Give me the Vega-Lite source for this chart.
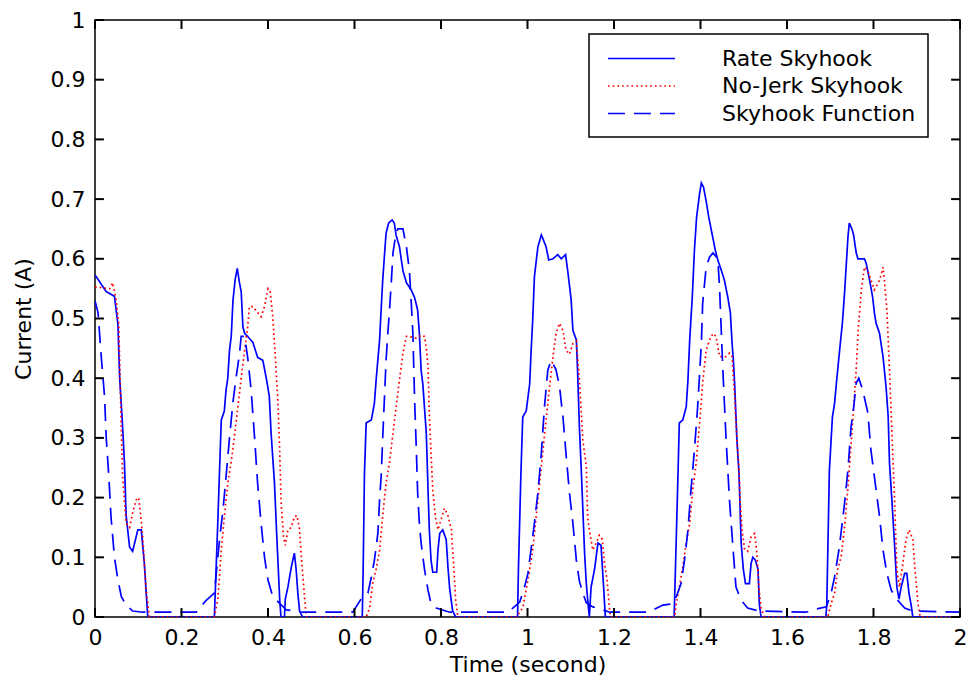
{
  "$schema": "https://vega.github.io/schema/vega-lite/v6.json",
  "width": 865,
  "height": 597,
  "autosize": {"type": "none"},
  "padding": {"left": 95, "top": 20, "right": 9, "bottom": 67},
  "background": "white",
  "datasets": {
    "xticks": [{"tk":0},{"tk":0.2},{"tk":0.4},{"tk":0.6},{"tk":0.8},{"tk":1},{"tk":1.2},{"tk":1.4},{"tk":1.6},{"tk":1.8},{"tk":2}],
    "yticks": [{"tk":0},{"tk":0.1},{"tk":0.2},{"tk":0.3},{"tk":0.4},{"tk":0.5},{"tk":0.6},{"tk":0.7},{"tk":0.8},{"tk":0.9},{"tk":1}],
    "rate": [
      {"t":0,"v":0.573},{"t":0.026,"v":0.545},{"t":0.045,"v":0.537},{"t":0.053,"v":0.49},{"t":0.057,"v":0.40},{"t":0.063,"v":0.33},{"t":0.068,"v":0.26},{"t":0.072,"v":0.17},{"t":0.080,"v":0.117},{"t":0.087,"v":0.11},{"t":0.099,"v":0.146},{"t":0.107,"v":0.146},{"t":0.114,"v":0.09},{"t":0.118,"v":0.045},{"t":0.122,"v":0},
      {"t":0.276,"v":0},{"t":0.280,"v":0.08},{"t":0.284,"v":0.16},{"t":0.288,"v":0.246},{"t":0.292,"v":0.33},{"t":0.299,"v":0.345},{"t":0.303,"v":0.38},{"t":0.307,"v":0.40},{"t":0.311,"v":0.447},{"t":0.315,"v":0.47},{"t":0.319,"v":0.53},{"t":0.324,"v":0.565},{"t":0.329,"v":0.584},{"t":0.334,"v":0.56},{"t":0.338,"v":0.545},{"t":0.342,"v":0.486},{"t":0.346,"v":0.475},{"t":0.353,"v":0.47},{"t":0.365,"v":0.46},{"t":0.376,"v":0.435},{"t":0.388,"v":0.43},{"t":0.396,"v":0.40},{"t":0.403,"v":0.37},{"t":0.407,"v":0.31},{"t":0.415,"v":0.224},{"t":0.420,"v":0.14},{"t":0.427,"v":0.03},{"t":0.430,"v":0},{"t":0.438,"v":0},{"t":0.440,"v":0.03},{"t":0.446,"v":0.05},{"t":0.454,"v":0.084},{"t":0.461,"v":0.107},{"t":0.465,"v":0.08},{"t":0.469,"v":0.04},{"t":0.473,"v":0.01},{"t":0.480,"v":0},
      {"t":0.618,"v":0},{"t":0.620,"v":0.079},{"t":0.623,"v":0.24},{"t":0.627,"v":0.325},{"t":0.639,"v":0.33},{"t":0.646,"v":0.358},{"t":0.650,"v":0.397},{"t":0.658,"v":0.464},{"t":0.662,"v":0.52},{"t":0.665,"v":0.561},{"t":0.669,"v":0.603},{"t":0.673,"v":0.643},{"t":0.679,"v":0.66},{"t":0.687,"v":0.665},{"t":0.692,"v":0.66},{"t":0.696,"v":0.64},{"t":0.704,"v":0.62},{"t":0.708,"v":0.60},{"t":0.712,"v":0.58},{"t":0.720,"v":0.56},{"t":0.731,"v":0.548},{"t":0.739,"v":0.535},{"t":0.746,"v":0.514},{"t":0.750,"v":0.475},{"t":0.754,"v":0.414},{"t":0.758,"v":0.39},{"t":0.766,"v":0.308},{"t":0.770,"v":0.213},{"t":0.773,"v":0.146},{"t":0.777,"v":0.095},{"t":0.781,"v":0.075},{"t":0.790,"v":0.075},{"t":0.793,"v":0.112},{"t":0.797,"v":0.14},{"t":0.804,"v":0.146},{"t":0.812,"v":0.13},{"t":0.816,"v":0.084},{"t":0.820,"v":0.048},{"t":0.827,"v":0.01},{"t":0.834,"v":0},
      {"t":0.977,"v":0},{"t":0.979,"v":0.079},{"t":0.985,"v":0.246},{"t":0.989,"v":0.335},{"t":0.997,"v":0.345},{"t":1.005,"v":0.39},{"t":1.008,"v":0.44},{"t":1.012,"v":0.497},{"t":1.016,"v":0.57},{"t":1.024,"v":0.62},{"t":1.032,"v":0.64},{"t":1.035,"v":0.635},{"t":1.043,"v":0.62},{"t":1.049,"v":0.598},{"t":1.059,"v":0.60},{"t":1.070,"v":0.607},{"t":1.078,"v":0.60},{"t":1.088,"v":0.607},{"t":1.093,"v":0.58},{"t":1.101,"v":0.531},{"t":1.105,"v":0.48},{"t":1.113,"v":0.464},{"t":1.116,"v":0.408},{"t":1.120,"v":0.318},{"t":1.124,"v":0.252},{"t":1.128,"v":0.18},{"t":1.132,"v":0.107},{"t":1.136,"v":0.056},{"t":1.139,"v":0.03},{"t":1.143,"v":0},{"t":1.147,"v":0.05},{"t":1.155,"v":0.08},{"t":1.163,"v":0.124},{"t":1.170,"v":0.12},{"t":1.176,"v":0.05},{"t":1.180,"v":0},
      {"t":1.339,"v":0},{"t":1.342,"v":0.079},{"t":1.348,"v":0.24},{"t":1.351,"v":0.325},{"t":1.359,"v":0.33},{"t":1.367,"v":0.352},{"t":1.371,"v":0.397},{"t":1.375,"v":0.464},{"t":1.381,"v":0.536},{"t":1.386,"v":0.615},{"t":1.391,"v":0.67},{"t":1.398,"v":0.71},{"t":1.402,"v":0.727},{"t":1.407,"v":0.72},{"t":1.413,"v":0.697},{"t":1.419,"v":0.67},{"t":1.425,"v":0.648},{"t":1.430,"v":0.63},{"t":1.434,"v":0.615},{"t":1.440,"v":0.598},{"t":1.448,"v":0.581},{"t":1.455,"v":0.565},{"t":1.463,"v":0.536},{"t":1.469,"v":0.51},{"t":1.473,"v":0.459},{"t":1.476,"v":0.43},{"t":1.479,"v":0.39},{"t":1.484,"v":0.30},{"t":1.489,"v":0.24},{"t":1.494,"v":0.124},{"t":1.499,"v":0.08},{"t":1.504,"v":0.056},{"t":1.513,"v":0.056},{"t":1.517,"v":0.09},{"t":1.521,"v":0.10},{"t":1.527,"v":0.095},{"t":1.533,"v":0.08},{"t":1.536,"v":0.022},{"t":1.540,"v":0},
      {"t":1.690,"v":0},{"t":1.692,"v":0.022},{"t":1.698,"v":0.246},{"t":1.705,"v":0.335},{"t":1.710,"v":0.358},{"t":1.714,"v":0.39},{"t":1.721,"v":0.442},{"t":1.728,"v":0.492},{"t":1.733,"v":0.542},{"t":1.741,"v":0.637},{"t":1.744,"v":0.66},{"t":1.750,"v":0.65},{"t":1.754,"v":0.64},{"t":1.760,"v":0.61},{"t":1.764,"v":0.60},{"t":1.779,"v":0.60},{"t":1.783,"v":0.593},{"t":1.791,"v":0.564},{"t":1.798,"v":0.536},{"t":1.802,"v":0.51},{"t":1.806,"v":0.492},{"t":1.814,"v":0.475},{"t":1.822,"v":0.436},{"t":1.829,"v":0.386},{"t":1.834,"v":0.335},{"t":1.837,"v":0.258},{"t":1.843,"v":0.19},{"t":1.849,"v":0.117},{"t":1.854,"v":0.05},{"t":1.859,"v":0.03},{"t":1.864,"v":0.05},{"t":1.872,"v":0.073},{"t":1.877,"v":0.073},{"t":1.882,"v":0.04},{"t":1.887,"v":0.02},{"t":1.891,"v":0},{"t":2.0,"v":0}
    ],
    "nojerk": [
      {"t":0,"v":0.553},{"t":0.034,"v":0.55},{"t":0.041,"v":0.56},{"t":0.049,"v":0.53},{"t":0.055,"v":0.49},{"t":0.061,"v":0.31},{"t":0.064,"v":0.235},{"t":0.072,"v":0.157},{"t":0.080,"v":0.15},{"t":0.087,"v":0.174},{"t":0.095,"v":0.196},{"t":0.101,"v":0.20},{"t":0.107,"v":0.16},{"t":0.112,"v":0.117},{"t":0.118,"v":0.045},{"t":0.126,"v":0},
      {"t":0.276,"v":0},{"t":0.284,"v":0.03},{"t":0.292,"v":0.112},{"t":0.299,"v":0.168},{"t":0.307,"v":0.224},{"t":0.315,"v":0.26},{"t":0.322,"v":0.30},{"t":0.330,"v":0.35},{"t":0.338,"v":0.40},{"t":0.346,"v":0.447},{"t":0.353,"v":0.486},{"t":0.357,"v":0.52},{"t":0.365,"v":0.52},{"t":0.376,"v":0.51},{"t":0.384,"v":0.503},{"t":0.392,"v":0.52},{"t":0.400,"v":0.55},{"t":0.405,"v":0.545},{"t":0.411,"v":0.503},{"t":0.417,"v":0.435},{"t":0.423,"v":0.358},{"t":0.427,"v":0.28},{"t":0.430,"v":0.196},{"t":0.436,"v":0.134},{"t":0.440,"v":0.12},{"t":0.446,"v":0.146},{"t":0.454,"v":0.15},{"t":0.461,"v":0.168},{"t":0.467,"v":0.17},{"t":0.473,"v":0.146},{"t":0.477,"v":0.10},{"t":0.482,"v":0.056},{"t":0.487,"v":0.012},{"t":0.490,"v":0},
      {"t":0.627,"v":0},{"t":0.635,"v":0.015},{"t":0.642,"v":0.056},{"t":0.650,"v":0.08},{"t":0.658,"v":0.112},{"t":0.665,"v":0.168},{"t":0.673,"v":0.224},{"t":0.681,"v":0.26},{"t":0.689,"v":0.308},{"t":0.696,"v":0.35},{"t":0.704,"v":0.397},{"t":0.712,"v":0.442},{"t":0.720,"v":0.47},{"t":0.727,"v":0.47},{"t":0.743,"v":0.467},{"t":0.754,"v":0.472},{"t":0.762,"v":0.47},{"t":0.766,"v":0.45},{"t":0.770,"v":0.42},{"t":0.773,"v":0.34},{"t":0.777,"v":0.274},{"t":0.781,"v":0.213},{"t":0.787,"v":0.168},{"t":0.793,"v":0.146},{"t":0.800,"v":0.163},{"t":0.808,"v":0.182},{"t":0.816,"v":0.17},{"t":0.824,"v":0.146},{"t":0.829,"v":0.09},{"t":0.834,"v":0.028},{"t":0.839,"v":0},
      {"t":0.974,"v":0},{"t":0.989,"v":0.015},{"t":1.001,"v":0.062},{"t":1.012,"v":0.112},{"t":1.020,"v":0.168},{"t":1.028,"v":0.224},{"t":1.035,"v":0.274},{"t":1.043,"v":0.33},{"t":1.051,"v":0.386},{"t":1.059,"v":0.436},{"t":1.066,"v":0.475},{"t":1.074,"v":0.492},{"t":1.082,"v":0.48},{"t":1.089,"v":0.447},{"t":1.097,"v":0.44},{"t":1.105,"v":0.458},{"t":1.113,"v":0.462},{"t":1.120,"v":0.397},{"t":1.128,"v":0.296},{"t":1.136,"v":0.252},{"t":1.139,"v":0.168},{"t":1.143,"v":0.146},{"t":1.151,"v":0.112},{"t":1.159,"v":0.124},{"t":1.166,"v":0.137},{"t":1.173,"v":0.13},{"t":1.178,"v":0.09},{"t":1.184,"v":0.062},{"t":1.190,"v":0.01},{"t":1.193,"v":0},
      {"t":1.340,"v":0},{"t":1.344,"v":0.022},{"t":1.351,"v":0.05},{"t":1.359,"v":0.084},{"t":1.367,"v":0.124},{"t":1.375,"v":0.157},{"t":1.382,"v":0.213},{"t":1.390,"v":0.258},{"t":1.398,"v":0.325},{"t":1.405,"v":0.392},{"t":1.413,"v":0.447},{"t":1.421,"v":0.464},{"t":1.429,"v":0.475},{"t":1.436,"v":0.47},{"t":1.444,"v":0.436},{"t":1.459,"v":0.436},{"t":1.467,"v":0.442},{"t":1.473,"v":0.436},{"t":1.479,"v":0.369},{"t":1.484,"v":0.30},{"t":1.489,"v":0.247},{"t":1.492,"v":0.19},{"t":1.496,"v":0.146},{"t":1.502,"v":0.113},{"t":1.509,"v":0.11},{"t":1.517,"v":0.134},{"t":1.525,"v":0.14},{"t":1.530,"v":0.11},{"t":1.535,"v":0.05},{"t":1.540,"v":0.015},{"t":1.548,"v":0},
      {"t":1.694,"v":0},{"t":1.702,"v":0.022},{"t":1.710,"v":0.04},{"t":1.717,"v":0.079},{"t":1.725,"v":0.10},{"t":1.733,"v":0.15},{"t":1.741,"v":0.218},{"t":1.744,"v":0.247},{"t":1.752,"v":0.33},{"t":1.760,"v":0.414},{"t":1.765,"v":0.486},{"t":1.772,"v":0.548},{"t":1.779,"v":0.586},{"t":1.787,"v":0.58},{"t":1.794,"v":0.565},{"t":1.802,"v":0.548},{"t":1.814,"v":0.564},{"t":1.822,"v":0.586},{"t":1.825,"v":0.565},{"t":1.831,"v":0.514},{"t":1.837,"v":0.414},{"t":1.843,"v":0.302},{"t":1.849,"v":0.19},{"t":1.854,"v":0.079},{"t":1.860,"v":0.05},{"t":1.868,"v":0.09},{"t":1.875,"v":0.129},{"t":1.882,"v":0.146},{"t":1.891,"v":0.13},{"t":1.896,"v":0.079},{"t":1.903,"v":0.022},{"t":1.908,"v":0},{"t":2.0,"v":0}
    ],
    "func": [
      {"t":0,"v":0.53},{"t":0.007,"v":0.51},{"t":0.014,"v":0.44},{"t":0.022,"v":0.37},{"t":0.026,"v":0.30},{"t":0.032,"v":0.235},{"t":0.037,"v":0.168},{"t":0.045,"v":0.10},{"t":0.053,"v":0.062},{"t":0.061,"v":0.034},{"t":0.072,"v":0.02},{"t":0.087,"v":0.01},{"t":0.111,"v":0.008},{"t":0.234,"v":0.008},{"t":0.257,"v":0.028},{"t":0.276,"v":0.04},
      {"t":0.280,"v":0.07},{"t":0.288,"v":0.13},{"t":0.296,"v":0.18},{"t":0.303,"v":0.235},{"t":0.311,"v":0.30},{"t":0.319,"v":0.36},{"t":0.326,"v":0.40},{"t":0.334,"v":0.44},{"t":0.338,"v":0.47},{"t":0.346,"v":0.47},{"t":0.353,"v":0.435},{"t":0.361,"v":0.38},{"t":0.369,"v":0.30},{"t":0.376,"v":0.224},{"t":0.384,"v":0.157},{"t":0.392,"v":0.10},{"t":0.400,"v":0.062},{"t":0.411,"v":0.034},{"t":0.427,"v":0.023},{"t":0.442,"v":0.012},{"t":0.480,"v":0.008},{"t":0.596,"v":0.008},
      {"t":0.615,"v":0.03},{"t":0.631,"v":0.04},{"t":0.639,"v":0.067},{"t":0.646,"v":0.095},{"t":0.654,"v":0.14},{"t":0.658,"v":0.196},{"t":0.662,"v":0.24},{"t":0.665,"v":0.296},{"t":0.669,"v":0.363},{"t":0.673,"v":0.43},{"t":0.677,"v":0.475},{"t":0.681,"v":0.514},{"t":0.685,"v":0.56},{"t":0.689,"v":0.61},{"t":0.696,"v":0.643},{"t":0.700,"v":0.65},{"t":0.712,"v":0.65},{"t":0.720,"v":0.62},{"t":0.727,"v":0.58},{"t":0.731,"v":0.53},{"t":0.735,"v":0.475},{"t":0.739,"v":0.363},{"t":0.743,"v":0.28},{"t":0.746,"v":0.208},{"t":0.750,"v":0.157},{"t":0.754,"v":0.124},{"t":0.762,"v":0.079},{"t":0.770,"v":0.045},{"t":0.777,"v":0.022},{"t":0.789,"v":0.015},{"t":0.820,"v":0.008},{"t":0.955,"v":0.008},
      {"t":0.966,"v":0.015},{"t":0.982,"v":0.025},{"t":0.993,"v":0.05},{"t":1.001,"v":0.073},{"t":1.008,"v":0.112},{"t":1.016,"v":0.157},{"t":1.024,"v":0.208},{"t":1.032,"v":0.274},{"t":1.039,"v":0.35},{"t":1.047,"v":0.414},{"t":1.055,"v":0.43},{"t":1.066,"v":0.414},{"t":1.074,"v":0.386},{"t":1.082,"v":0.335},{"t":1.089,"v":0.274},{"t":1.097,"v":0.208},{"t":1.105,"v":0.157},{"t":1.113,"v":0.095},{"t":1.120,"v":0.06},{"t":1.128,"v":0.04},{"t":1.136,"v":0.024},{"t":1.151,"v":0.017},{"t":1.174,"v":0.012},{"t":1.190,"v":0.008},{"t":1.280,"v":0.008},
      {"t":1.313,"v":0.02},{"t":1.336,"v":0.022},{"t":1.344,"v":0.034},{"t":1.355,"v":0.056},{"t":1.363,"v":0.095},{"t":1.371,"v":0.146},{"t":1.378,"v":0.213},{"t":1.386,"v":0.28},{"t":1.394,"v":0.358},{"t":1.402,"v":0.459},{"t":1.405,"v":0.525},{"t":1.413,"v":0.586},{"t":1.421,"v":0.603},{"t":1.429,"v":0.61},{"t":1.440,"v":0.60},{"t":1.444,"v":0.553},{"t":1.451,"v":0.425},{"t":1.459,"v":0.30},{"t":1.467,"v":0.196},{"t":1.475,"v":0.117},{"t":1.482,"v":0.05},{"t":1.494,"v":0.028},{"t":1.509,"v":0.015},{"t":1.536,"v":0.01},{"t":1.644,"v":0.008},
      {"t":1.660,"v":0.012},{"t":1.691,"v":0.017},{"t":1.702,"v":0.04},{"t":1.710,"v":0.067},{"t":1.721,"v":0.117},{"t":1.733,"v":0.19},{"t":1.741,"v":0.247},{"t":1.748,"v":0.318},{"t":1.754,"v":0.35},{"t":1.760,"v":0.392},{"t":1.766,"v":0.40},{"t":1.775,"v":0.38},{"t":1.787,"v":0.342},{"t":1.794,"v":0.28},{"t":1.806,"v":0.213},{"t":1.814,"v":0.168},{"t":1.822,"v":0.112},{"t":1.831,"v":0.073},{"t":1.841,"v":0.045},{"t":1.856,"v":0.028},{"t":1.872,"v":0.015},{"t":1.891,"v":0.01},{"t":2.0,"v":0.008}
    ]
  },
  "layer": [
    {
      "data": {"name": "rate"},
      "mark": {"type": "line", "strokeWidth": 1.7, "clip": true},
      "encoding": {
        "x": {"field": "t", "type": "quantitative", "scale": {"domain": [0, 2], "nice": false},
              "axis": {"orient": "bottom", "values": [0,0.2,0.4,0.6,0.8,1,1.2,1.4,1.6,1.8,2], "format": "~g", "title": "Time (second)"}},
        "y": {"field": "v", "type": "quantitative", "scale": {"domain": [0, 1], "nice": false},
              "axis": {"orient": "left", "values": [0,0.1,0.2,0.3,0.4,0.5,0.6,0.7,0.8,0.9,1], "format": "~g", "title": "Current (A)"}},
        "color": {"datum": "Rate Skyhook", "type": "nominal",
                  "scale": {"domain": ["Rate Skyhook", "No-Jerk Skyhook", "Skyhook Function"], "range": ["#0000ff", "#ff0000", "#0000ff"]},
                  "legend": {"title": null}},
        "strokeDash": {"datum": "Rate Skyhook", "type": "nominal",
                  "scale": {"domain": ["Rate Skyhook", "No-Jerk Skyhook", "Skyhook Function"], "range": [[1, 0], [1.7, 3], [17, 9]]},
                  "legend": {"title": null}}
      }
    },
    {
      "data": {"name": "nojerk"},
      "mark": {"type": "line", "strokeWidth": 1.7, "clip": true},
      "encoding": {
        "x": {"field": "t", "type": "quantitative"},
        "y": {"field": "v", "type": "quantitative"},
        "color": {"datum": "No-Jerk Skyhook", "type": "nominal"},
        "strokeDash": {"datum": "No-Jerk Skyhook", "type": "nominal"}
      }
    },
    {
      "data": {"name": "func"},
      "mark": {"type": "line", "strokeWidth": 1.7, "clip": true},
      "encoding": {
        "x": {"field": "t", "type": "quantitative"},
        "y": {"field": "v", "type": "quantitative"},
        "color": {"datum": "Skyhook Function", "type": "nominal"},
        "strokeDash": {"datum": "Skyhook Function", "type": "nominal"}
      }
    },
    {
      "data": {"name": "xticks"},
      "mark": {"type": "rule", "strokeWidth": 2, "color": "#000000", "opacity": 1},
      "encoding": {
        "x": {"field": "tk", "type": "quantitative"},
        "y": {"datum": 0, "type": "quantitative"},
        "y2": {"datum": 0.015}
      }
    },
    {
      "data": {"name": "xticks"},
      "mark": {"type": "rule", "strokeWidth": 2, "color": "#000000", "opacity": 1},
      "encoding": {
        "x": {"field": "tk", "type": "quantitative"},
        "y": {"datum": 1, "type": "quantitative"},
        "y2": {"datum": 0.985}
      }
    },
    {
      "data": {"name": "yticks"},
      "mark": {"type": "rule", "strokeWidth": 2, "color": "#000000", "opacity": 1},
      "encoding": {
        "y": {"field": "tk", "type": "quantitative"},
        "x": {"datum": 0, "type": "quantitative"},
        "x2": {"datum": 0.0206}
      }
    },
    {
      "data": {"name": "yticks"},
      "mark": {"type": "rule", "strokeWidth": 2, "color": "#000000", "opacity": 1},
      "encoding": {
        "y": {"field": "tk", "type": "quantitative"},
        "x": {"datum": 2, "type": "quantitative"},
        "x2": {"datum": 1.9794}
      }
    }
  ],
  "config": {
    "view": {"stroke": "black", "strokeWidth": 1.5},
    "axis": {
      "domain": false, "ticks": false, "grid": false,
      "labelColor": "black", "titleColor": "black", "labelFont": "DejaVu Sans", "titleFont": "DejaVu Sans",
      "labelFontSize": 22, "titleFontSize": 22, "titleFontWeight": "normal",
      "labelFlush": false, "labelOverlap": false, "labelPadding": 10
    },
    "axisX": {"titlePadding": 6},
    "axisY": {"titlePadding": 15},
    "legend": {
      "orient": "none", "legendX": 494, "legendY": 14,
      "symbolType": "M-0.5,0H5.5", "symbolSize": 499, "symbolStrokeWidth": 1.7,
      "labelFont": "DejaVu Sans", "labelFontSize": 22, "labelColor": "black", "labelOffset": 96, "labelLimit": 0,
      "padding": 12, "rowPadding": 3.5, "strokeColor": "black", "strokeWidth": 1.5, "fillColor": "white"
    }
  }
}
